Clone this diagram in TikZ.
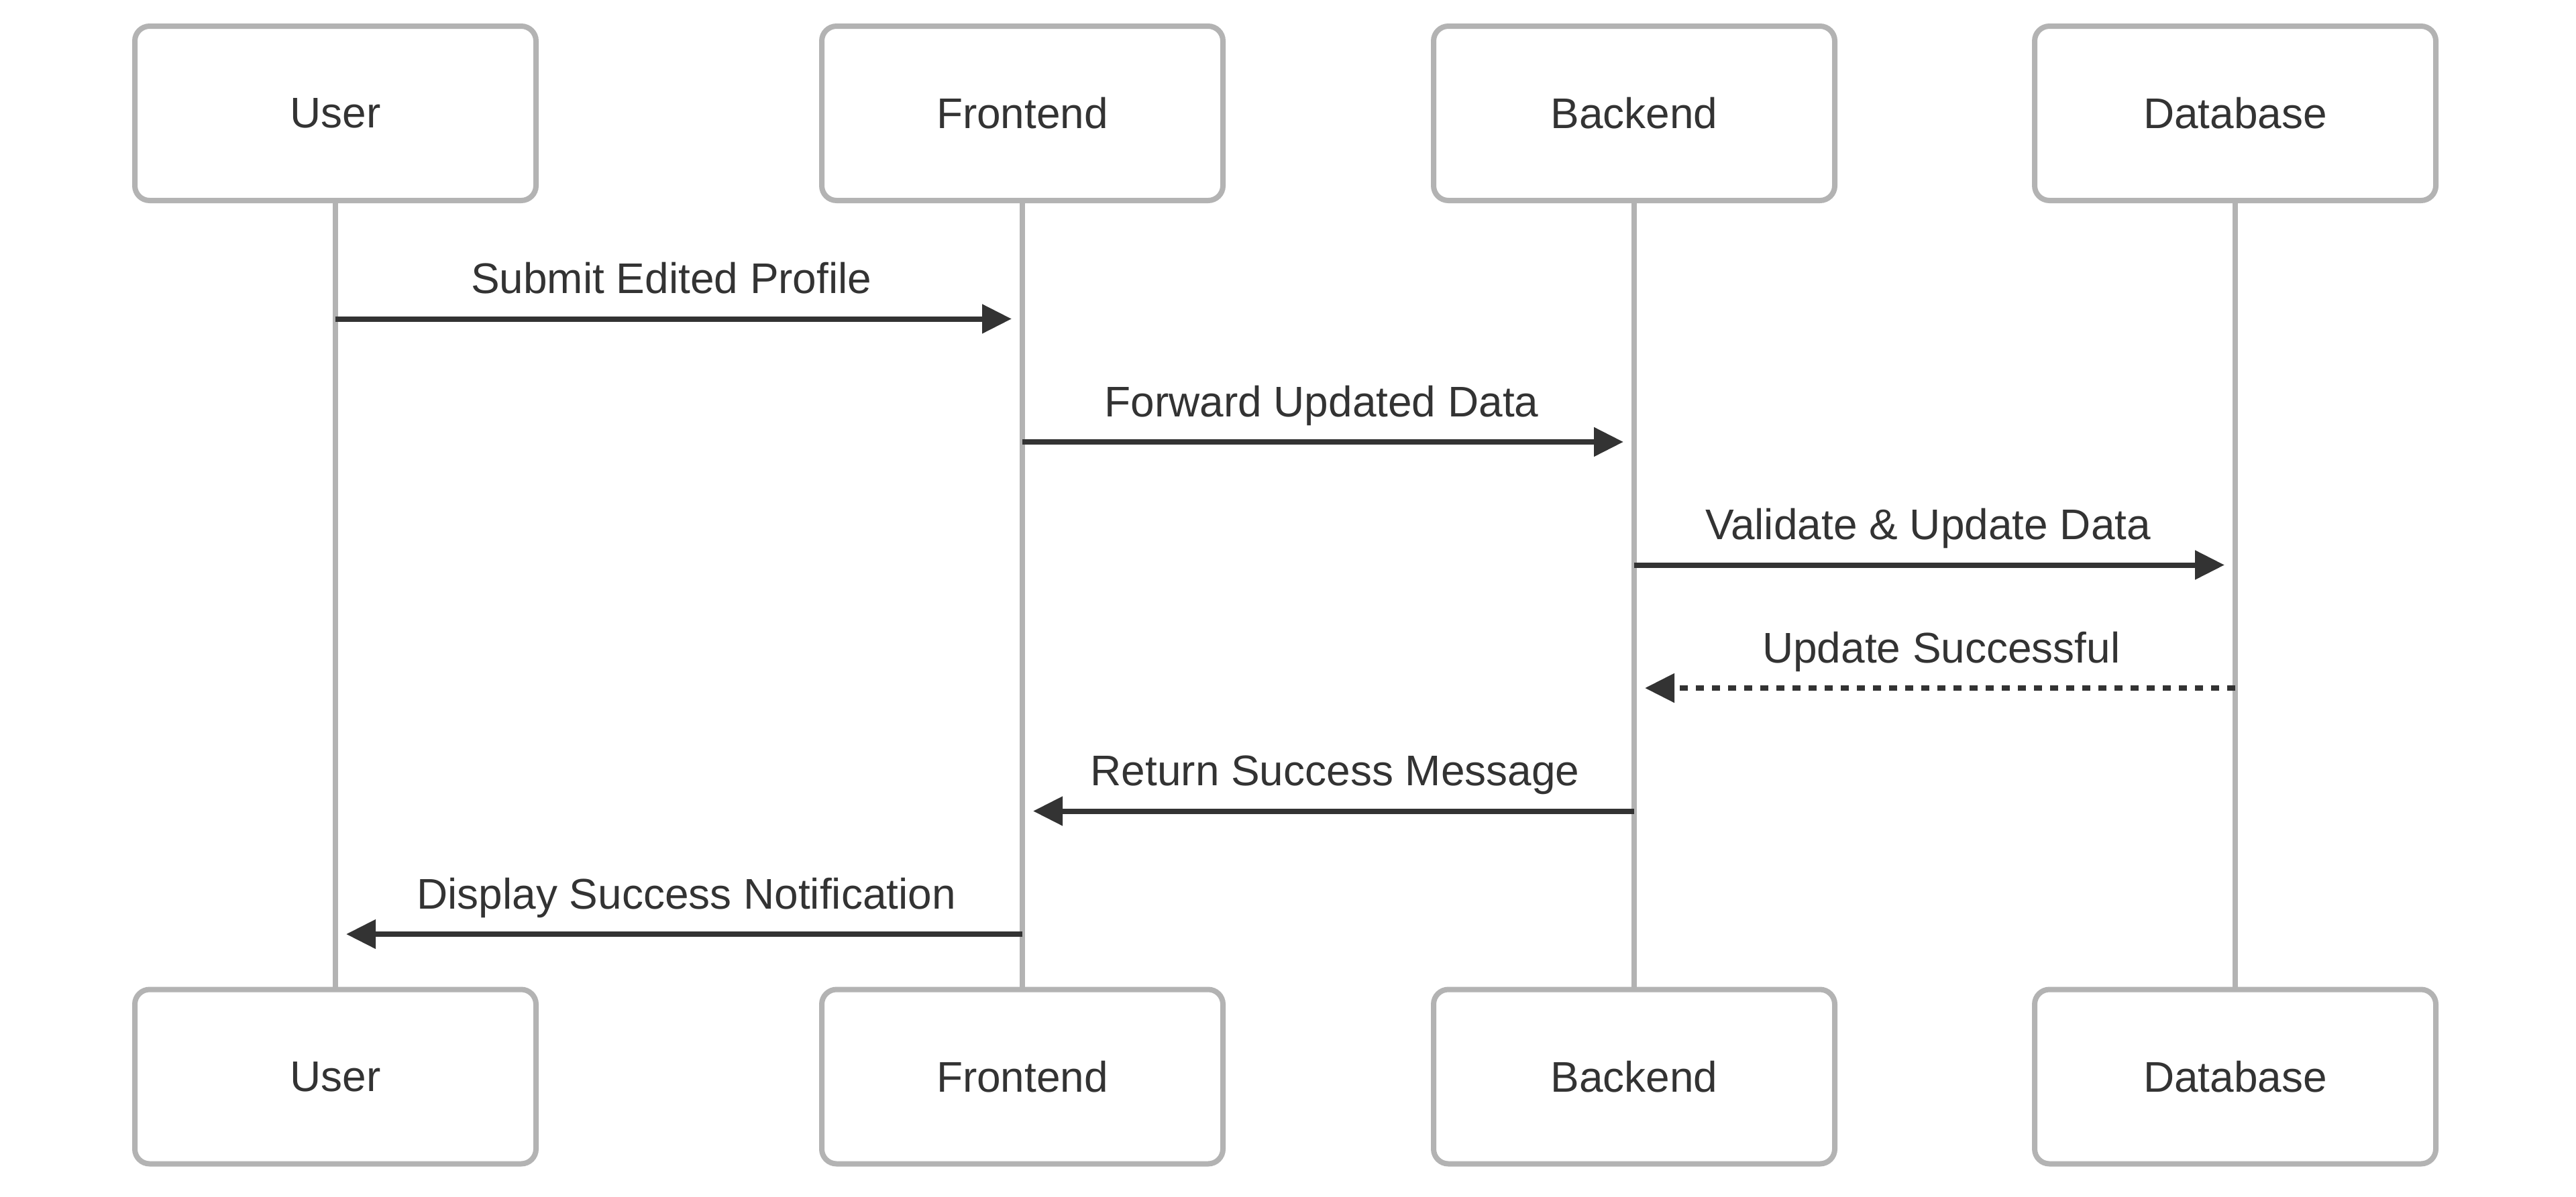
\documentclass[tikz,border=0pt]{standalone}
\usepackage{fontspec}
\setmainfont{Liberation Sans}
\usetikzlibrary{arrows.meta}
\definecolor{lifegray}{HTML}{B3B3B3}
\definecolor{inkgray}{HTML}{333333}

\begin{document}
\begin{tikzpicture}[
  actor/.style={draw=lifegray, line width=0.08cm, rounded corners=0.22cm, fill=white,
    minimum width=5.98cm, minimum height=2.6cm, inner sep=0pt, text=inkgray,
    font=\fontsize{18.2}{22}\selectfont},
  lifeline/.style={draw=lifegray, line width=0.08cm},
  msg/.style={draw=inkgray, line width=0.08cm, -{Triangle[length=0.44cm, width=0.42cm]},
    shorten >=0.16cm},
  reply/.style={msg, dash pattern=on 0.12cm off 0.12cm},
  msglabel/.style={pos=0.489, anchor=base, yshift=0.38cm, text=inkgray,
    font=\fontsize{18.2}{22}\selectfont}
]
  \useasboundingbox (0,0) rectangle (38.4,-17.84);
  % participants: one box on top, one at the bottom, lifeline between
  \foreach \name/\txt/\x in {user/User/5.00, front/Frontend/15.24, back/Backend/24.36, db/Database/33.32}{
    \node[actor] (\name T) at (\x,-1.69) {\txt};
    \node[actor] (\name B) at (\x,-16.055) {\txt};
    \draw[lifeline] (\name T.south) -- (\name B.north);
  }
  % message rows
  \coordinate (m1) at (0,-4.755);
  \coordinate (m2) at (0,-6.59);
  \coordinate (m3) at (0,-8.425);
  \coordinate (m4) at (0,-10.26);
  \coordinate (m5) at (0,-12.095);
  \coordinate (m6) at (0,-13.93);
  \draw[msg] (userT |- m1) -- (frontT |- m1) node[msglabel] {Submit Edited Profile};
  \draw[msg] (frontT |- m2) -- (backT |- m2) node[msglabel] {Forward Updated Data};
  \draw[msg] (backT |- m3) -- (dbT |- m3) node[msglabel] {Validate \& Update Data};
  \draw[reply] (dbT |- m4) -- (backT |- m4) node[msglabel] {Update Successful};
  \draw[msg] (backT |- m5) -- (frontT |- m5) node[msglabel] {Return Success Message};
  \draw[msg] (frontT |- m6) -- (userT |- m6) node[msglabel] {Display Success Notification};
\end{tikzpicture}
\end{document}
